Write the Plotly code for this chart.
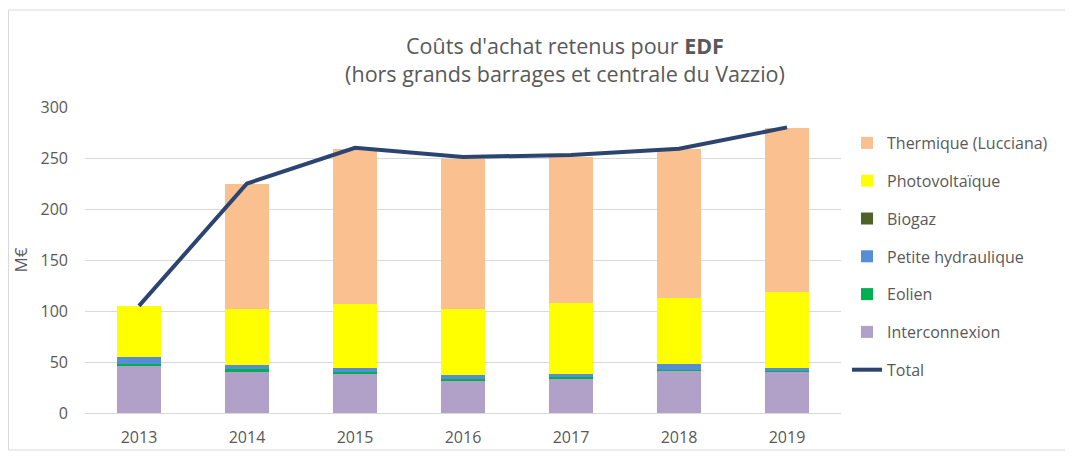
import plotly.graph_objects as go

years = ["2013", "2014", "2015", "2016", "2017", "2018", "2019"]
interconnexion = [47, 40.5, 39, 31, 33.5, 41.5, 40.5]
eolien = [1.5, 2.5, 1.5, 2.5, 2, 1, 0.5]
petite_hydraulique = [6, 4, 4, 3.5, 2.5, 6, 3.5]
biogaz = [0, 0, 0, 0, 0, 0, 0]
photovoltaique = [50.5, 55, 62, 65, 70, 64.5, 74]
thermique = [0, 123, 152.5, 147, 143, 146, 161]
total = [105, 225, 260, 251, 253, 259, 280]

GREY = "#595959"
FONT = "Open Sans"

# figure is offset 8px by the page body margin; sizes below compensate
W, H = 1065, 449
L, T, PW, PH = 77, 99, 756, 306
B = H - T - PH
R = W - L - PW

series = [
    ("Interconnexion", interconnexion, "#b1a0c7", 6),
    ("Eolien", eolien, "#00b050", 5),
    ("Petite hydraulique", petite_hydraulique, "#558ed5", 4),
    ("Biogaz", biogaz, "#4f6228", 3),
    ("Photovoltaïque", photovoltaique, "#ffff00", 2),
    ("Thermique (Lucciana)", thermique, "#fac090", 1),
]

fig = go.Figure()
for name, vals, color, rank in series:
    fig.add_trace(go.Bar(
        x=years, y=vals, name=name, marker_color=color,
        marker_line_width=0, width=0.41,
        legendrank=rank, legendgroup=name,
    ))
fig.add_trace(go.Scatter(
    x=years, y=total, name="Total", mode="lines",
    line=dict(color="#2b4570", width=4),
    legendrank=7, legendgroup="Total",
))

def px_x(p):
    return (p - L) / PW

def px_y(p):
    return (T + PH - p) / PH

fig.update_layout(
    barmode="stack",
    width=W, height=H,
    margin=dict(l=L, r=R, t=T, b=B, autoexpand=False),
    paper_bgcolor="white", plot_bgcolor="white",
    font=dict(family=FONT, color=GREY, size=16),
    title=dict(
        text="Coûts d'achat retenus pour <b>EDF</b><br>(hors grands barrages et centrale du Vazzio)",
        x=557 / W, xanchor="center", y=1 - 46 / H, yanchor="middle",
        font=dict(size=21.5, color=GREY, family=FONT),
    ),
    legend=dict(
        x=px_x(839), xanchor="left", y=px_y(118), yanchor="top",
        traceorder="grouped", tracegroupgap=14,
        font=dict(size=16, color=GREY, family=FONT),
        bgcolor="rgba(0,0,0,0)",
    ),
    shapes=[dict(
        type="rect", xref="paper", yref="paper",
        x0=px_x(0.5), x1=px_x(1060),
        y0=px_y(442), y1=px_y(2),
        line=dict(color="#d9d9d9", width=1), fillcolor="rgba(0,0,0,0)",
        layer="below",
    )],
)
fig.update_xaxes(
    showgrid=False, showline=True, linecolor="#d9d9d9", linewidth=1,
    tickfont=dict(size=16, color=GREY), ticklabelstandoff=10, automargin=False,
)
fig.update_yaxes(
    range=[0, 300], dtick=50, showgrid=True, gridcolor="#d9d9d9", gridwidth=1,
    zeroline=False, showline=False, tickfont=dict(size=16, color=GREY),
    ticklabelstandoff=16, automargin=False,
    title=dict(text="M€", font=dict(size=17, color=GREY), standoff=8),
)

fig.write_html("out.html")
